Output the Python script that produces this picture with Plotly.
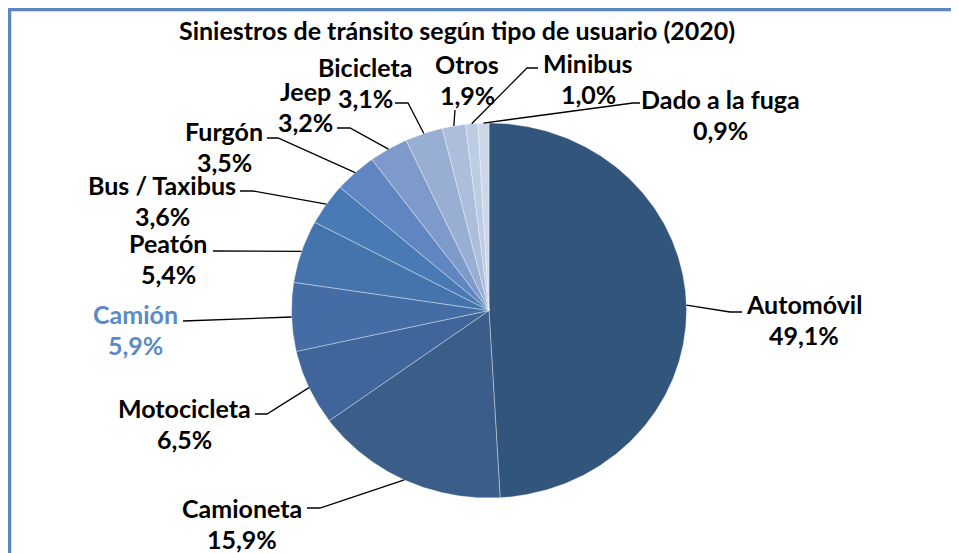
import numpy as np
import plotly.graph_objects as go

# data
categorias = ["Automóvil", "Camioneta", "Motocicleta", "Camión", "Peatón", "Bus / Taxibus",
              "Furgón", "Jeep", "Bicicleta", "Otros", "Minibus", "Dado a la fuga"]
porcentajes = [49.1, 15.9, 6.5, 5.9, 5.4, 3.6, 3.5, 3.2, 3.1, 1.9, 1.0, 0.9]
titulo = "Siniestros de tránsito según tipo de usuario (2020)"

colores = ["#32557B", "#3A5D89", "#3F659A", "#446DA6", "#4574AD", "#4A7AB5",
           "#5F86C0", "#7E9ACA", "#98AED3", "#ADBEDD", "#BDCBE4", "#CDD7EA"]

# the page body has an 8px margin, so the figure starts at (8, 8) of the window
OFF = 8
W, H = 959 - OFF, 553 - OFF
CX, CY = 489 - OFF, 310.5 - OFF   # pie centre in figure pixels
RX, RY = 197.5, 187.5             # the reference pie is a bit wider than tall
GAP = 31                          # distance between the two label lines


def to_x(px):
    # window pixel -> data unit
    return (px - OFF - CX) / RX


def to_y(py):
    return (CY - (py - OFF)) / RY


# label block centres and leader-line elbows, in window pixels
pos_etiquetas = {
    "Automóvil": (804, 319), "Camioneta": (242, 523), "Motocicleta": (184, 423),
    "Camión": (135, 329), "Peatón": (168, 258), "Bus / Taxibus": (162, 200),
    "Furgón": (224, 146), "Jeep": (305, 106), "Bicicleta": (365, 82),
    "Otros": (467, 79), "Minibus": (588, 78), "Dado a la fuga": (720, 114),
}
codos = {
    "Automóvil": [(730, 312), (742, 312)],
    "Camioneta": [(320, 508), (307, 508)],
    "Motocicleta": [(267, 414), (255, 414)],
    "Camión": [(195, 321), (183, 321)],
    "Peatón": [(213, 251)],
    "Bus / Taxibus": [(253, 191), (240, 191)],
    "Furgón": [(278, 138), (267, 138)],
    "Jeep": [(350, 128), (337, 128)],
    "Bicicleta": [(408, 103), (395, 103)],
    "Otros": [(455, 110)],
    "Minibus": [(527, 68), (538, 68)],
    "Dado a la fuga": [(633, 103), (640, 103)],
}

fig = go.Figure()

total = sum(porcentajes)
acum = 0.0
for nombre, valor, color in zip(categorias, porcentajes, colores):
    t0 = 2 * np.pi * acum / total
    t1 = 2 * np.pi * (acum + valor) / total
    th = np.linspace(t0, t1, max(8, int(valor * 6)))
    xs = np.concatenate([[0], np.sin(th), [0]])
    ys = np.concatenate([[0], np.cos(th), [0]])
    fig.add_trace(go.Scatter(
        x=xs, y=ys, mode="lines", fill="toself", fillcolor=color,
        line=dict(color="rgba(255,255,255,0.45)", width=0.8),
        hoverinfo="text", text=f"{nombre}: {valor}%", showlegend=False,
    ))

    # leader line from the slice middle on the rim to the label
    tm = 2 * np.pi * (acum + valor / 2) / total
    lx = [np.sin(tm)] + [to_x(p[0]) for p in codos[nombre]]
    ly = [np.cos(tm)] + [to_y(p[1]) for p in codos[nombre]]
    fig.add_trace(go.Scatter(x=lx, y=ly, mode="lines", line=dict(color="black", width=1.3),
                             hoverinfo="skip", showlegend=False))

    # name and percentage as two lines
    cx, cy = pos_etiquetas[nombre]
    fuente = dict(family="Lato", size=25, weight="bold",
                  color="#5B8AC7" if nombre == "Camión" else "black")
    pct = f"{valor:.1f}%".replace(".", ",")
    for texto, dy in ((nombre, -GAP / 2), (pct, GAP / 2)):
        fig.add_annotation(
            x=to_x(cx), y=to_y(cy + dy), xref="x", yref="y", text=texto, showarrow=False,
            xanchor="center", yanchor="middle", font=fuente,
        )
    acum += valor

fig.add_annotation(
    x=to_x(457), y=to_y(30), xref="x", yref="y", text=titulo, showarrow=False,
    xanchor="center", yanchor="middle",
    font=dict(family="Lato", size=25, weight="bold", color="black"),
)

# blue frame (only the top and left edges are visible in the reference)
fig.add_shape(type="rect", xref="paper", yref="paper",
              x0=1.5 / W, x1=1.05, y0=-0.05, y1=1 - 1.5 / H,
              line=dict(color="#5B86C0", width=3.5), layer="above")

fig.update_xaxes(range=[to_x(OFF), to_x(OFF + W)], visible=False, fixedrange=True)
fig.update_yaxes(range=[to_y(OFF + H), to_y(OFF)], visible=False, fixedrange=True)
fig.update_layout(
    width=W, height=H, margin=dict(l=0, r=0, t=0, b=0),
    paper_bgcolor="white", plot_bgcolor="white",
)

fig.write_html("out.html")
